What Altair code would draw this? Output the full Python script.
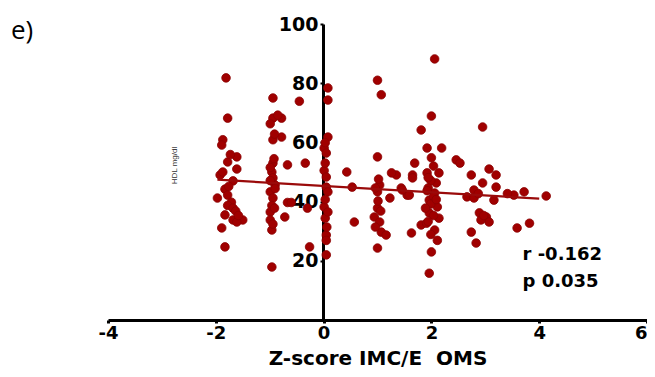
import altair as alt
import pandas as pd

# Scatter points (Z-score IMC/E OMS, HDL mg/dl)
px = [-1.81, -1.78, -1.87, -1.89, -1.61, -1.78, -1.61, -1.92, -1.68, -1.83, -1.97, -1.71, -1.78,
      -1.68, -1.83, -1.68, -1.50, -1.61, -1.89, -1.83, -1.73, -1.87, -1.76, -1.63, -1.78, -1.58,
      -0.94, -0.94, -0.78, -0.99, -0.78, -0.94, -0.94, -0.96, -0.94, -0.90, -0.99, -0.94, -0.96,
      -0.99, -0.99, -0.96, -0.96, -0.67, -0.67, -0.72, -0.92, -0.99, -0.90, -0.91, -0.99, -0.94,
      -0.91, -0.85,
      -0.45, -0.34, -0.60, -0.30, -0.26,
      0.08, 0.08, 0.08, 0.01, 0.05, 0.01, 0.05, 0.05, 0.08, 0.01, 0.03, 0.05, 0.05, 0.05, 0.08,
      0.03, 0.03, 0.06, 0.03,
      0.43, 0.53, 0.57,
      1.00, 1.07, 1.00, 1.04, 1.00, 1.00, 0.94, 1.04, 1.07, 1.00, 1.23, 1.16, 1.02, 0.96, 1.06,
      1.01, 0.96,
      1.35, 1.26, 1.44, 1.55, 1.46, 1.59, 1.65, 1.69, 1.65, 1.81, 1.63, 1.81,
      2.06, 2.00, 1.92, 2.19, 2.00, 1.92, 2.14, 2.09, 2.06, 1.96, 2.11, 1.96, 2.14, 1.91, 2.06,
      2.11, 2.00, 1.96, 1.99, 1.94, 2.04, 1.99, 1.89, 2.04, 1.94, 1.99, 2.04, 1.92, 2.09, 1.94,
      2.46, 2.53,
      2.95, 2.74, 3.07, 3.20, 2.95, 3.20, 2.79, 2.66, 2.79, 3.16, 2.89, 3.02, 3.07, 2.92, 2.74,
      2.83, 2.97, 2.87,
      3.53, 3.72, 4.13, 3.82, 3.59, 3.41]
py = [81.8, 68.2, 60.9, 59.1, 55.1, 53.4, 51.0, 49.0, 47.0, 44.2, 41.2, 39.8, 38.7,
      37.8, 35.5, 33.8, 33.8, 33.1, 31.1, 24.7, 55.9, 50.0, 45.1, 36.8, 42.2, 35.3,
      75.0, 68.2, 68.2, 66.3, 61.8, 60.9, 53.0, 50.0, 48.0, 45.6, 43.3, 41.2, 38.7,
      36.5, 33.8, 30.4, 17.9, 52.4, 39.7, 34.8, 54.5, 51.5, 44.4, 37.8, 47.1, 32.4,
      62.8, 69.2,
      73.9, 53.0, 39.7, 37.8, 24.7,
      78.4, 74.3, 61.8, 58.1, 56.4, 50.5, 48.3, 44.9, 43.3, 38.2, 34.4, 28.7, 26.9, 22.0, 36.5,
      53.0, 40.7, 31.4, 59.9,
      50.0, 44.9, 33.1,
      81.0, 76.1, 55.1, 45.6, 43.3, 37.8, 34.8, 33.1, 29.7, 24.3, 41.2, 28.7, 47.6, 44.6, 36.8,
      40.2, 31.4,
      49.0, 49.7, 44.6, 42.2, 43.9, 42.2, 49.0, 53.0, 48.0, 64.2, 29.4, 32.1,
      88.2, 68.9, 58.1, 58.1, 54.8, 49.7, 49.7, 46.3, 42.9, 40.5, 38.2, 36.2, 34.4, 32.7, 30.4,
      26.9, 23.0, 15.8, 47.1, 44.6, 41.7, 39.2, 37.8, 35.3, 33.3, 28.9, 52.0, 43.7, 40.7, 48.1,
      54.1, 53.0,
      65.2, 49.0, 51.0, 49.0, 46.3, 44.9, 43.9, 41.6, 41.2, 40.5, 36.2, 34.8, 33.1, 33.8, 29.7,
      26.0, 35.3, 42.7,
      42.2, 43.3, 41.9, 32.7, 31.1, 42.7]

# Regression line endpoints
line_x = [-1.97, 4.0]
line_y = [47.4, 41.0]

# Statistics annotation
stat_text = ["r -0.162", "p 0.035"]
stat_x = [3.69, 3.69]
stat_y = [22.0, 12.8]

x_ticks = [-4, -2, 0, 2, 4, 6]
y_ticks = [20, 40, 60, 80, 100]

pts = pd.DataFrame({"x": px, "y": py})
ln = pd.DataFrame({"x": line_x, "y": line_y})
st = pd.DataFrame({"x": stat_x, "y": stat_y, "t": stat_text})

W, H = 539, 296
xs = alt.Scale(domain=[-4, 6], nice=False, zero=False)
ys = alt.Scale(domain=[0, 100], nice=False)

FONT = "DejaVu Sans"

x_axis = alt.Axis(values=x_ticks, title="Z-score IMC/E\u00a0\u00a0OMS", titleFont=FONT, titleFontSize=20,
                  titleFontWeight="bold", titleY=44, titleBaseline="alphabetic",
                  labelFont=FONT, labelFontSize=18, labelExpr="toString(datum.value)",
                  labelAlign={"condition": {"test": "datum.value == 6", "value": "right"}, "value": "center"},
                  labelFontWeight="bold", labelColor="black", titleColor="black", tickSize=3,
                  tickWidth=3, domainWidth=3, domainColor="black", tickColor="black", labelPadding=1,
                  grid=False, labelFlush=False)
y_axis = alt.Axis(values=y_ticks, title="HDL mg/dl", titleFont="Liberation Sans", titleFontSize=8,
                  titleFontWeight="normal", titleColor="#333333", titleX=-149, titleY=141,
                  titleAngle=270, titleAlign="center", titleBaseline="middle",
                  labelFont=FONT, labelFontSize=19, labelFontWeight="bold", labelColor="black",
                  tickSize=3, tickWidth=2, domainWidth=3, domainColor="black", tickColor="black",
                  labelPadding=2, grid=False, offset=-215, labelFlush=False)

points = alt.Chart(pts).mark_circle(size=74, color="#A00000", opacity=1,
                                    stroke="#8a0000", strokeWidth=0.8).encode(
    x=alt.X("x:Q", scale=xs, axis=x_axis),
    y=alt.Y("y:Q", scale=ys, axis=y_axis),
)

line = alt.Chart(ln).mark_line(color="#9a0a0a", strokeWidth=2.2).encode(
    x=alt.X("x:Q", scale=xs),
    y=alt.Y("y:Q", scale=ys),
)

text = alt.Chart(st).mark_text(align="left", baseline="middle", font=FONT, fontSize=18,
                               fontWeight="bold", color="black").encode(
    x=alt.X("x:Q", scale=xs),
    y=alt.Y("y:Q", scale=ys),
    text="t:N",
)

chart = alt.layer(points, line, text).properties(
    width=W, height=H,
    autosize=alt.AutoSizeParams(type="none"),
    padding={"left": 100, "top": 16, "right": 0, "bottom": 49},
    title=alt.TitleParams("e)", anchor="start", dx=-97, dy=33, fontSize=26, fontWeight="normal",
                          font="Open Sans", color="black", frame="group"),
).configure(background="white", view=alt.ViewConfig(stroke=None))

chart.save("out.html", embed_options={"renderer": "svg", "actions": False})
